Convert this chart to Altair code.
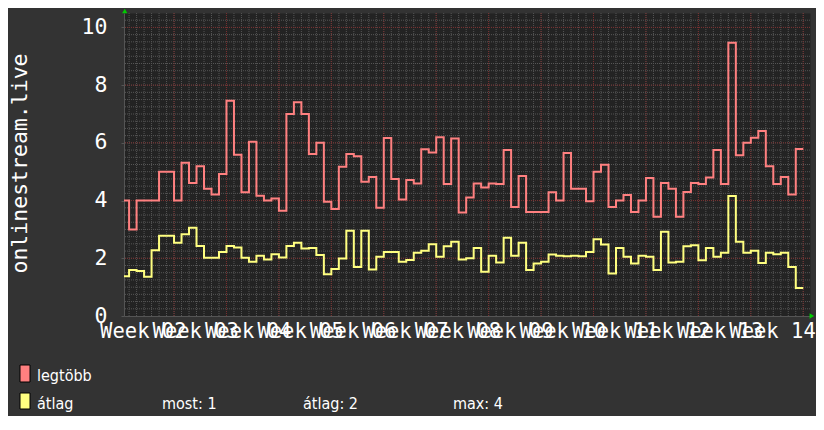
import json
import altair as alt
import pandas as pd
import numpy as np

# ---- data (daily values, weeks 02..14) ----
legtobb = [4.0, 3.0, 4.0, 4.0, 4.0, 5.0, 5.0, 4.0, 5.31, 4.61,
           5.19, 4.41, 4.21, 4.92, 7.46, 5.59, 4.29, 6.04, 4.17, 4.0,
           4.07, 3.65, 7.0, 7.41, 7.0, 5.61, 6.0, 3.96, 3.71, 5.17,
           5.61, 5.54, 4.65, 4.82, 3.75, 6.17, 4.75, 4.04, 4.71, 4.59,
           5.78, 5.67, 6.19, 4.57, 6.15, 3.59, 4.11, 4.59, 4.45, 4.59,
           4.57, 5.75, 3.78, 4.85, 3.60, 3.60, 3.60, 4.29, 4.0, 5.65,
           4.41, 4.41, 3.98, 5.0, 5.24, 3.78, 4.0, 4.19, 3.60, 4.0,
           4.78, 3.44, 4.61, 4.41, 3.44, 4.30, 4.61, 4.57, 4.80, 5.75,
           4.57, 9.47, 5.57, 6.0, 6.18, 6.41, 5.19, 4.57, 4.82, 4.21,
           5.79]
atlag = [1.38, 1.59, 1.56, 1.36, 2.28, 2.78, 2.78, 2.54, 2.83, 3.06,
         2.43, 2.02, 2.02, 2.22, 2.43, 2.37, 2.02, 1.88, 2.09, 1.96,
         2.14, 2.03, 2.43, 2.54, 2.34, 2.36, 2.11, 1.45, 1.63, 1.99,
         2.95, 1.70, 2.95, 1.61, 2.05, 2.22, 2.22, 1.88, 1.94, 2.19,
         2.26, 2.49, 2.05, 2.42, 2.57, 1.96, 2.00, 2.36, 1.53, 2.09,
         1.85, 2.71, 2.09, 2.54, 1.59, 1.82, 1.88, 2.13, 2.09, 2.07,
         2.09, 2.07, 2.22, 2.66, 2.48, 1.47, 2.36, 2.05, 1.82, 2.09,
         2.05, 1.59, 2.92, 1.85, 1.88, 2.42, 2.45, 1.93, 2.36, 2.05,
         2.19, 4.16, 2.57, 2.19, 2.26, 1.84, 2.19, 2.14, 2.19, 1.70,
         0.97]
SERIES = ["legtöbb", "átlag"]
COLORS = ["#ff8080", "#ffff80"]
WEEK_LABELS = ["Week %02d" % w for w in range(2, 15)]
Y_TICKS = [0, 2, 4, 6, 8, 10]
Y_TITLE = "onlinestream.live"

# ---- layout ----
X_MIN, X_MAX = 0.32, 91.9
Y_MIN, Y_MAX = 0, 10.5
W, H = 686, 303
FONT = "DejaVu Sans Mono"
LFONT = "DejaVu Sans Condensed, DejaVu Sans Mono"
BIG = 21.5
XLAB = 20.5
LSIZE = 16

n = len(legtobb)
days = list(range(n + 1))
df = pd.DataFrame({
    "day": days * 2,
    "value": legtobb + [legtobb[-1]] + atlag + [atlag[-1]],
    "series": [SERIES[0]] * (n + 1) + [SERIES[1]] * (n + 1),
})

xs = alt.Scale(domain=[X_MIN, X_MAX], nice=False, zero=False)
ys = alt.Scale(domain=[Y_MIN, Y_MAX], nice=False, zero=False)

label_expr = json.dumps(WEEK_LABELS) + "[round((datum.value - 3.5) / 7)]"
X_AXIS = alt.Axis(values=[3.5 + 7 * i for i in range(len(WEEK_LABELS))],
                  labelExpr=label_expr, labelOverlap=False, labelFlush=False,
                  labelBound=False, ticks=False, grid=False, labelPadding=5,
                  labelOffset=-5,
                  labelFont=FONT, labelFontSize=XLAB, labelColor="#ffffff",
                  domainColor="#555555", title=None)
Y_AXIS = alt.Axis(values=Y_TICKS, grid=False, tickSize=3, tickColor="#555555",
                  labelPadding=14, labelFont=FONT, labelFontSize=BIG,
                  labelColor="#ffffff", domainColor="#555555", title=None)

minor_h = pd.DataFrame({"v": np.arange(0.25, Y_MAX, 0.25)})
major_h = pd.DataFrame({"v": Y_TICKS[1:]})
minor_v = pd.DataFrame({"v": np.arange(1, 92)})
major_v = pd.DataFrame({"v": np.arange(7, 92, 7)})

def hgrid(d, color):
    return alt.Chart(d).mark_rule(color=color, strokeWidth=1, strokeDash=[1, 1]).encode(
        y=alt.Y("v:Q", scale=ys, axis=Y_AXIS))

def vgrid(d, color):
    return alt.Chart(d).mark_rule(color=color, strokeWidth=1, strokeDash=[1, 1]).encode(
        x=alt.X("v:Q", scale=xs, axis=X_AXIS))

lines = alt.Chart(df).mark_line(interpolate="step-after", strokeWidth=2, clip=True).encode(
    x=alt.X("day:Q", scale=xs, axis=X_AXIS),
    y=alt.Y("value:Q", scale=ys, axis=Y_AXIS),
    color=alt.Color("series:N", scale=alt.Scale(domain=SERIES, range=COLORS), legend=None),
    detail="series:N",
)

arrows = pd.DataFrame({"x": [X_MIN + 0.1, X_MAX + 0.25], "y": [Y_MAX + 0.07, Y_MIN],
                       "s": ["triangle-up", "triangle-right"]})
arrow_layer = alt.Chart(arrows).mark_point(filled=True, color="#00cc00", size=28, opacity=1).encode(
    x=alt.X("x:Q", scale=xs, axis=X_AXIS), y=alt.Y("y:Q", scale=ys, axis=Y_AXIS),
    shape=alt.Shape("s:N", scale=None, legend=None))

def text_layer(txt, x, y, size, font, align="left", baseline="alphabetic", angle=0):
    return alt.Chart(pd.DataFrame({"t": [txt]})).mark_text(
        align=align, baseline=baseline, angle=angle, font=font, fontSize=size,
        color="#ffffff").encode(x=alt.value(x), y=alt.value(y), text="t:N")

def box(color, y0, y1):
    return alt.Chart(pd.DataFrame({"a": [0]})).mark_rect(
        fill=color, stroke="#000000", strokeWidth=1).encode(
        x=alt.value(-104), x2=alt.value(-94), y=alt.value(y0), y2=alt.value(y1))

most = "most: %.0f" % atlag[-1]
avg = "átlag: %.0f" % (sum(atlag) / len(atlag))
mx = "max: %.0f" % max(atlag)

layers = [
    hgrid(minor_h, "#555555"), vgrid(minor_v, "#555555"),
    hgrid(major_h, "#7a2f2f"), vgrid(major_v, "#7a2f2f"),
    lines, arrow_layer,
    text_layer(Y_TITLE, -97, 150.5, BIG, FONT, align="center", angle=270),
    box(COLORS[0], 352, 369), box(COLORS[1], 380, 396),
    text_layer(SERIES[0], -87, 367.5, LSIZE, LFONT),
    text_layer(SERIES[1], -87, 396, LSIZE, LFONT),
    text_layer(most, 38, 396, LSIZE, LFONT),
    text_layer(avg, 179, 396, LSIZE, LFONT),
    text_layer(mx, 329, 396, LSIZE, LFONT),
]

chart = alt.layer(*layers).properties(
    width=W, height=H,
    padding={"left": 116, "top": 5, "right": 6, "bottom": 100},
    autosize=alt.AutoSizeParams(type="none"),
).configure(background="#333333").configure_view(fill="#232323", stroke="transparent")

chart.save("out.html", embed_options={"renderer": "svg", "actions": False})
